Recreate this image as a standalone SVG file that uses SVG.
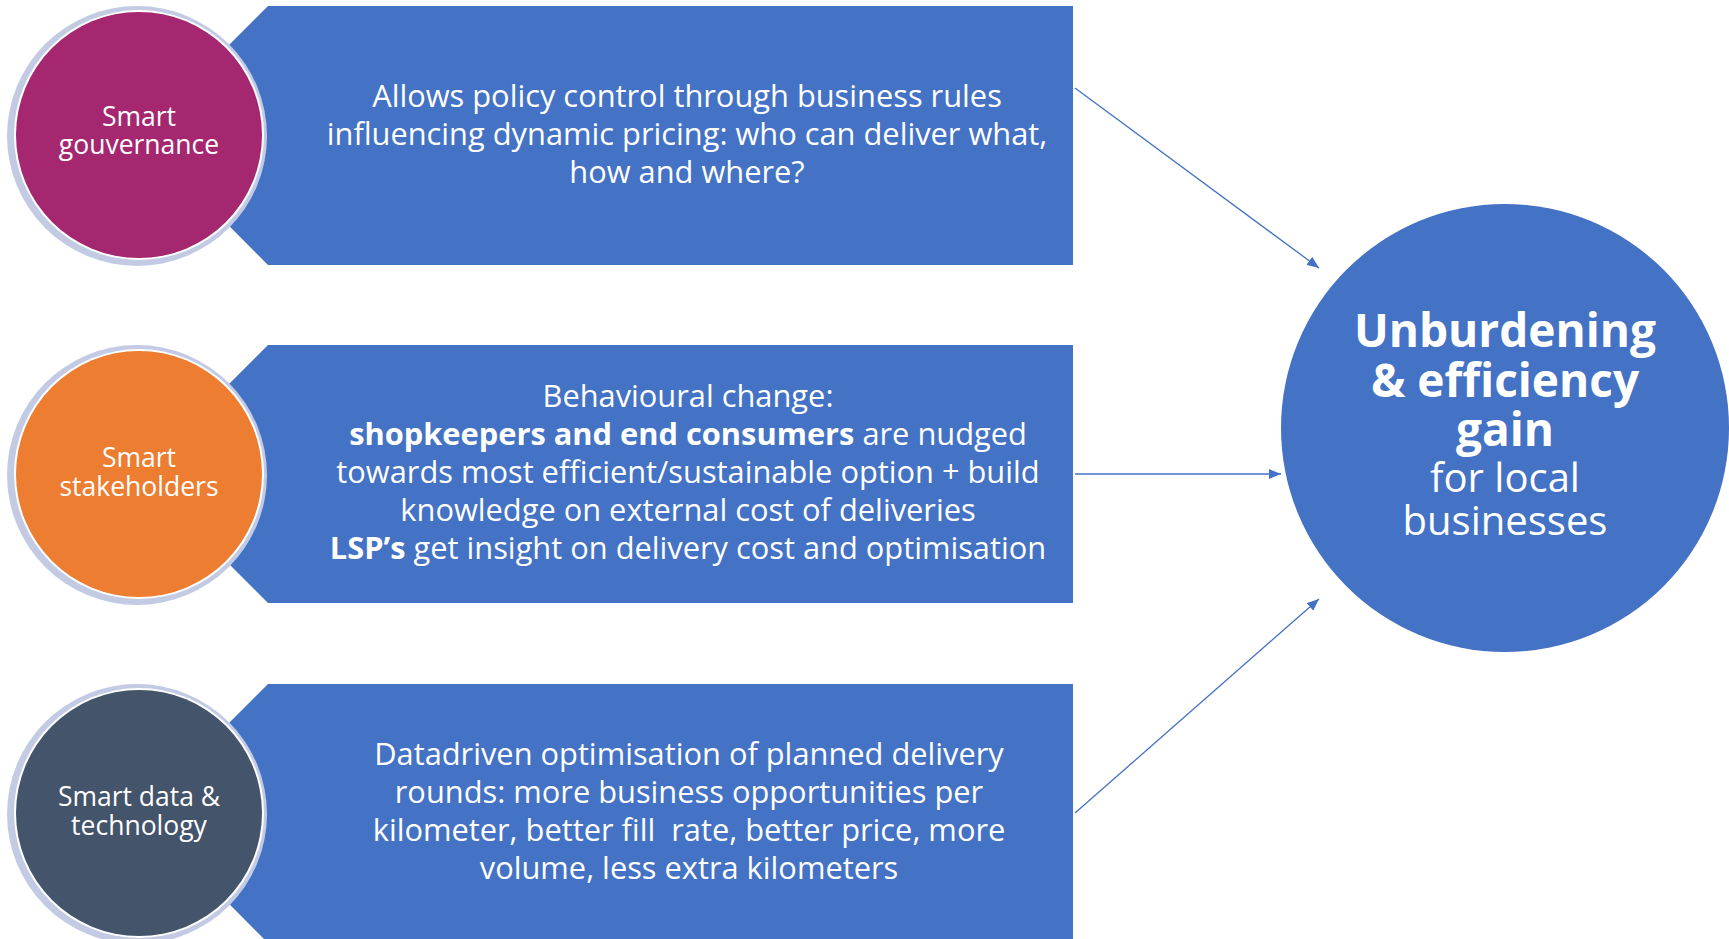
<svg xmlns="http://www.w3.org/2000/svg" width="1729" height="939" viewBox="0 0 1729 939">
<style>
.box{fill:#4472c4}
.ring{fill:#c3cbe4}
.gap{fill:#ffffff}
.t{font-family:"Open Sans","Liberation Sans",sans-serif;fill:#ffffff;text-anchor:middle}
.bt{font-size:30.8px}
.ct{font-size:26.5px}
.b{font-weight:bold}
.conn{stroke:#4472c4;stroke-width:1.3;fill:none}
</style>
<defs>
<marker id="ah" viewBox="0 0 12 10" refX="12" refY="5" markerWidth="12" markerHeight="10" markerUnits="userSpaceOnUse" orient="auto">
<path d="M0,0 L12,5 L0,10 z" fill="#4472c4"/>
</marker>
</defs>
<rect width="1729" height="939" fill="#ffffff"/>

<g id="box1">
<polygon class="box" points="268,6 1073,6 1073,265 268,265 139,135"/>
<text class="t bt" x="687" y="107">Allows policy control through business rules</text>
<text class="t bt" x="687" y="145">influencing dynamic pricing: who can deliver what,</text>
<text class="t bt" x="687" y="183">how and where?</text>
</g>
<g id="box2">
<polygon class="box" points="268,345 1073,345 1073,603 268,603 139,474"/>
<text class="t bt" x="688" y="407">Behavioural change:</text>
<text class="t bt" x="688" y="445"><tspan class="b">shopkeepers and end consumers</tspan> are nudged</text>
<text class="t bt" x="688" y="483">towards most efficient/sustainable option + build</text>
<text class="t bt" x="688" y="521">knowledge on external cost of deliveries</text>
<text class="t bt" x="688" y="559"><tspan class="b">LSP’s</tspan> get insight on delivery cost and optimisation</text>
</g>
<g id="box3">
<polygon class="box" points="268,684 1073,684 1073,943 268,943 139,813"/>
<text class="t bt" x="689" y="765">Datadriven optimisation of planned delivery</text>
<text class="t bt" x="689" y="803">rounds: more business opportunities per</text>
<text class="t bt" x="689" y="841" xml:space="preserve">kilometer, better fill  rate, better price, more</text>
<text class="t bt" x="689" y="879">volume, less extra kilometers</text>
</g>

<g id="circle1">
<circle class="ring" cx="137" cy="136" r="130"/>
<circle class="gap" cx="139" cy="135" r="125"/>
<circle cx="139" cy="135" r="123" fill="#a5276f"/>
<text class="t ct" x="139" y="126">Smart</text>
<text class="t ct" x="139" y="154">gouvernance</text>
</g>
<g id="circle2">
<circle class="ring" cx="137" cy="475" r="130"/>
<circle class="gap" cx="139" cy="474" r="125"/>
<circle cx="139" cy="474" r="123" fill="#ed7d31"/>
<text class="t ct" x="139" y="467">Smart</text>
<text class="t ct" x="139" y="496">stakeholders</text>
</g>
<g id="circle3">
<circle class="ring" cx="137" cy="814" r="130"/>
<circle class="gap" cx="139" cy="813" r="125"/>
<circle cx="139" cy="813" r="123" fill="#44546a"/>
<text class="t ct" x="139" y="806">Smart data &amp;</text>
<text class="t ct" x="139" y="835">technology</text>
</g>

<g id="target">
<circle cx="1505" cy="428" r="224" fill="#4472c4"/>
<text class="t b" style="font-size:46px" x="1505" y="347">Unburdening</text>
<text class="t b" style="font-size:46px" x="1505" y="397">&amp; efficiency</text>
<text class="t b" style="font-size:46px" x="1505" y="446">gain</text>
<text class="t" style="font-size:40px" x="1505" y="492">for local</text>
<text class="t" style="font-size:40px" x="1505" y="535">businesses</text>
</g>

<g id="connectors">
<line class="conn" x1="1075" y1="88" x2="1319" y2="268" marker-end="url(#ah)"/>
<line class="conn" x1="1075" y1="474" x2="1281" y2="474" marker-end="url(#ah)"/>
<line class="conn" x1="1075" y1="813" x2="1319" y2="599" marker-end="url(#ah)"/>
</g>
</svg>
